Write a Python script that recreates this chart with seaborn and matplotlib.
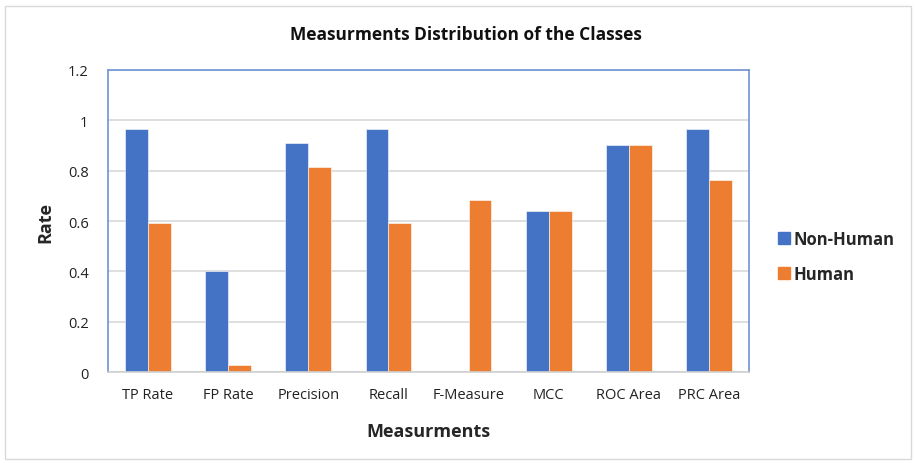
import matplotlib
matplotlib.use("Agg")
import matplotlib.pyplot as plt
from matplotlib.patches import Rectangle
from matplotlib.lines import Line2D
import seaborn as sns
import pandas as pd

measures = ["TP Rate", "FP Rate", "Precision", "Recall", "F-Measure", "MCC", "ROC Area", "PRC Area"]
non_human = [0.966, 0.40, 0.908, 0.966, 0.0, 0.639, 0.901, 0.966]
human = [0.592, 0.028, 0.814, 0.592, 0.685, 0.639, 0.901, 0.761]
classes = ["Non-Human", "Human"]
y_ticks = [0, 0.2, 0.4, 0.6, 0.8, 1, 1.2]
y_tick_labels = ["0", "0.2", "0.4", "0.6", "0.8", "1", "1.2"]

df = pd.DataFrame({
    "Measurments": measures * 2,
    "Rate": non_human + human,
    "Class": [classes[0]] * len(measures) + [classes[1]] * len(measures),
})

sns.set_theme(style="white")
plt.rcParams["font.family"] = ["Open Sans", "DejaVu Sans"]

palette = {"Non-Human": "#4472C4", "Human": "#ED7D31"}

fig = plt.figure(figsize=(9.15, 4.64), dpi=100)
ax = fig.add_axes([0.118, 0.196, 0.7006, 0.651])

sns.barplot(data=df, x="Measurments", y="Rate", hue="Class", order=measures,
            hue_order=classes, palette=palette, width=0.57, saturation=1,
            edgecolor="white", linewidth=0.4, ax=ax, legend=False)

ax.set_ylim(0, 1.2)
ax.set_xlim(-0.5, len(measures) - 0.5)
ax.set_yticks(y_ticks)
ax.set_yticklabels(y_tick_labels, fontsize=10.5, color="#222222")
ax.tick_params(axis="x", labelsize=10.5, colors="#222222", length=0, pad=11)
ax.tick_params(axis="y", length=0, pad=14)
ax.yaxis.grid(True, color="#D9D9D9", linewidth=1.2)
ax.set_axisbelow(True)

for side in ["left", "top", "right"]:
    ax.spines[side].set_visible(True)
    ax.spines[side].set_color("#6E93D6")
    ax.spines[side].set_linewidth(1.2)
ax.spines["bottom"].set_color("#D0D0D0")
ax.spines["bottom"].set_linewidth(1.2)

ax.set_xlabel("Measurments", fontsize=13, fontweight="bold", labelpad=14)
ax.set_ylabel("Rate", fontsize=13, fontweight="bold", labelpad=10)
fig.text(0.509, 0.924, "Measurments Distribution of the Classes", fontsize=12.5,
         fontweight="bold", ha="center", va="center", color="#111111")

handles = [Line2D([0], [0], marker="s", linestyle="none", markersize=8.5,
                  markerfacecolor=palette[c], markeredgecolor=palette[c])
           for c in classes]
fig.legend(handles, classes, loc="center left", bbox_to_anchor=(0.848, 0.445),
           frameon=False, handletextpad=0.05, labelspacing=1.05, handlelength=1.0,
           borderpad=0, borderaxespad=0, prop={"weight": "bold", "size": 12})

fig.patches.append(Rectangle((0.006, 0.008), 0.99, 0.976, transform=fig.transFigure,
                             fill=False, edgecolor="#D9D9D9", linewidth=1.0))

fig.savefig("out.png", dpi=100, facecolor="white")
